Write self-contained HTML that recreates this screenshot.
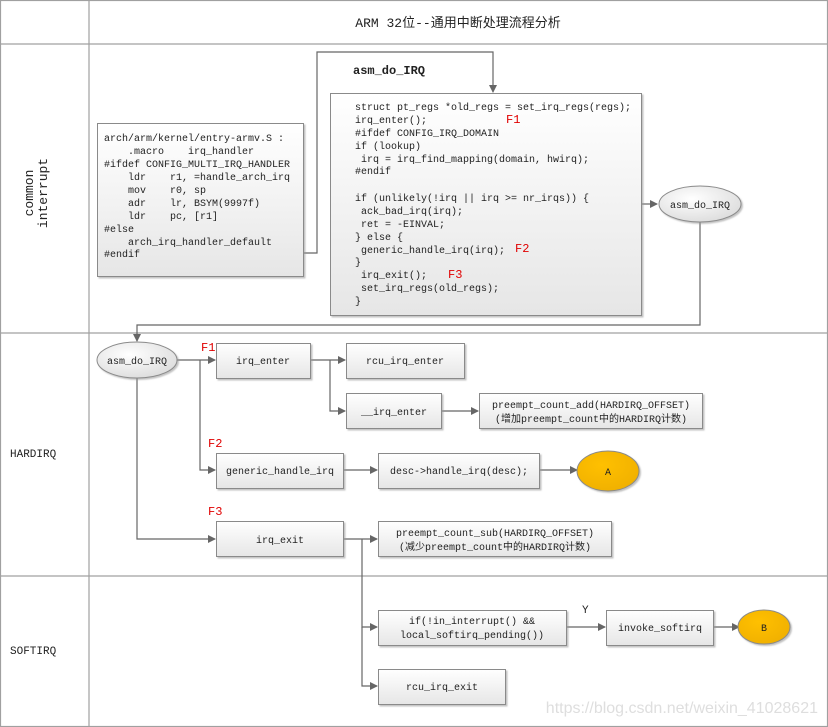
<!DOCTYPE html>
<html><head><meta charset="utf-8"><style>
html,body{margin:0;padding:0;background:#fff;}
svg{display:block;}
text{font-family:"Liberation Mono","Noto Sans CJK SC",monospace;fill:#222;white-space:pre;}
</style></head><body>
<svg width="828" height="727" viewBox="0 0 828 727" xmlns="http://www.w3.org/2000/svg">
<defs>
<linearGradient id="g" x1="0" y1="0" x2="0" y2="1"><stop offset="0" stop-color="#ffffff"/><stop offset="1" stop-color="#e6e6e6"/></linearGradient>
<radialGradient id="ge" cx="0.4" cy="0.35" r="0.7"><stop offset="0" stop-color="#ffffff"/><stop offset="1" stop-color="#dcdcdc"/></radialGradient>
<radialGradient id="go" cx="0.4" cy="0.35" r="0.7"><stop offset="0" stop-color="#ffc000"/><stop offset="1" stop-color="#f0b000"/></radialGradient>
<marker id="a" markerWidth="8" markerHeight="8" refX="7" refY="4" orient="auto" markerUnits="userSpaceOnUse"><path d="M0,0 L8,4 L0,8 Z" fill="#666"/></marker>
<filter id="sh" x="-5%" y="-5%" width="115%" height="120%"><feDropShadow dx="1.5" dy="1.5" stdDeviation="0.8" flood-color="#999" flood-opacity="0.6"/></filter>
</defs>
<g stroke="#a0a0a0" stroke-width="1.2" fill="none">
<rect x="0.5" y="0.5" width="827" height="726"/>
<line x1="0" y1="44" x2="828" y2="44"/>
<line x1="0" y1="333" x2="828" y2="333"/>
<line x1="0" y1="576" x2="828" y2="576"/>
<line x1="89" y1="0" x2="89" y2="727"/>
</g>
<text x="458" y="27" font-size="13" text-anchor="middle">ARM 32位--通用中断处理流程分析</text>
<g font-size="13">
<text transform="translate(33,193) rotate(-90)" text-anchor="middle">common</text>
<text transform="translate(47,193) rotate(-90)" text-anchor="middle">interrupt</text>
</g>
<text x="10" y="457" font-size="11">HARDIRQ</text>
<text x="10" y="654" font-size="11">SOFTIRQ</text>

<g stroke="#666" stroke-width="1.2" fill="none">
<polyline points="303,253 317,253 317,52 493,52 493,92" marker-end="url(#a)"/>
<line x1="641" y1="204" x2="657" y2="204" marker-end="url(#a)"/>
<polyline points="700,222 700,325 137,325 137,341" marker-end="url(#a)"/>
<line x1="177" y1="360" x2="215" y2="360" marker-end="url(#a)"/>
<polyline points="200,360 200,470 215,470" marker-end="url(#a)"/>
<polyline points="137,378 137,539 215,539" marker-end="url(#a)"/>
<line x1="310" y1="360" x2="345" y2="360" marker-end="url(#a)"/>
<polyline points="330,360 330,411 345,411" marker-end="url(#a)"/>
<line x1="441" y1="411" x2="478" y2="411" marker-end="url(#a)"/>
<line x1="343" y1="470" x2="377" y2="470" marker-end="url(#a)"/>
<line x1="539" y1="470" x2="577" y2="470" marker-end="url(#a)"/>
<line x1="343" y1="539" x2="377" y2="539" marker-end="url(#a)"/>
<polyline points="362,539 362,627 377,627" marker-end="url(#a)"/>
<polyline points="362,627 362,686 377,686" marker-end="url(#a)"/>
<line x1="566" y1="627" x2="605" y2="627" marker-end="url(#a)"/>
<line x1="713" y1="627" x2="739" y2="627" marker-end="url(#a)"/>
</g>

<g stroke="#8a8a8a" stroke-width="1" fill="url(#g)" filter="url(#sh)">
<rect x="97.5" y="123.5" width="206" height="153"/>
<rect x="330.5" y="93.5" width="311" height="222"/>
<rect x="216.5" y="343.5" width="94" height="35"/>
<rect x="346.5" y="343.5" width="118" height="35"/>
<rect x="346.5" y="393.5" width="95" height="35"/>
<rect x="479.5" y="393.5" width="223" height="35"/>
<rect x="216.5" y="453.5" width="127" height="35"/>
<rect x="378.5" y="453.5" width="161" height="35"/>
<rect x="216.5" y="521.5" width="127" height="35"/>
<rect x="378.5" y="521.5" width="233" height="35"/>
<rect x="378.5" y="610.5" width="188" height="35"/>
<rect x="606.5" y="610.5" width="107" height="35"/>
<rect x="378.5" y="669.5" width="127" height="35"/>
</g>
<g stroke="#8a8a8a" stroke-width="1" filter="url(#sh)">
<ellipse cx="700" cy="204" rx="41" ry="18" fill="url(#ge)"/>
<ellipse cx="137" cy="360" rx="40" ry="18" fill="url(#ge)"/>
<ellipse cx="608" cy="471" rx="31" ry="20" fill="url(#go)"/>
<ellipse cx="764" cy="627" rx="26" ry="17" fill="url(#go)"/>
</g>

<text x="353" y="74" font-size="12" font-weight="bold">asm_do_IRQ</text>
<g font-size="10">
<text x="104" y="141">arch/arm/kernel/entry-armv.S :</text>
<text x="104" y="154">    .macro    irq_handler</text>
<text x="104" y="167">#ifdef CONFIG_MULTI_IRQ_HANDLER</text>
<text x="104" y="180">    ldr    r1, =handle_arch_irq</text>
<text x="104" y="193">    mov    r0, sp</text>
<text x="104" y="206">    adr    lr, BSYM(9997f)</text>
<text x="104" y="219">    ldr    pc, [r1]</text>
<text x="104" y="232">#else</text>
<text x="104" y="245">    arch_irq_handler_default</text>
<text x="104" y="257">#endif</text>

<text x="355" y="110">struct pt_regs *old_regs = set_irq_regs(regs);</text>
<text x="355" y="123">irq_enter();</text>
<text x="355" y="136">#ifdef CONFIG_IRQ_DOMAIN</text>
<text x="355" y="149">if (lookup)</text>
<text x="355" y="162"> irq = irq_find_mapping(domain, hwirq);</text>
<text x="355" y="174">#endif</text>
<text x="355" y="201">if (unlikely(!irq || irq &gt;= nr_irqs)) {</text>
<text x="355" y="214"> ack_bad_irq(irq);</text>
<text x="355" y="227"> ret = -EINVAL;</text>
<text x="355" y="240">} else {</text>
<text x="355" y="253"> generic_handle_irq(irq);</text>
<text x="355" y="265">}</text>
<text x="355" y="278"> irq_exit();</text>
<text x="355" y="291"> set_irq_regs(old_regs);</text>
<text x="355" y="304">}</text>

<text x="700" y="208" text-anchor="middle">asm_do_IRQ</text>
<text x="137" y="364" text-anchor="middle">asm_do_IRQ</text>
<text x="263" y="364" text-anchor="middle">irq_enter</text>
<text x="405" y="364" text-anchor="middle">rcu_irq_enter</text>
<text x="394" y="415" text-anchor="middle">__irq_enter</text>
<text x="591" y="408" text-anchor="middle">preempt_count_add(HARDIRQ_OFFSET)</text>
<text x="591" y="422" text-anchor="middle">(增加preempt_count中的HARDIRQ计数)</text>
<text x="280" y="474" text-anchor="middle">generic_handle_irq</text>
<text x="459" y="474" text-anchor="middle">desc-&gt;handle_irq(desc);</text>
<text x="608" y="475" text-anchor="middle">A</text>
<text x="280" y="543" text-anchor="middle">irq_exit</text>
<text x="495" y="536" text-anchor="middle">preempt_count_sub(HARDIRQ_OFFSET)</text>
<text x="495" y="550" text-anchor="middle">(减少preempt_count中的HARDIRQ计数)</text>
<text x="472" y="624" text-anchor="middle">if(!in_interrupt() &amp;&amp;</text>
<text x="472" y="638" text-anchor="middle">local_softirq_pending())</text>
<text x="660" y="631" text-anchor="middle">invoke_softirq</text>
<text x="764" y="631" text-anchor="middle">B</text>
<text x="442" y="690" text-anchor="middle">rcu_irq_exit</text>
<text x="582" y="613" font-size="11">Y</text>
</g>
<g font-size="12">
<text x="506" y="123" style="fill:#e00000">F1</text>
<text x="515" y="252" style="fill:#e00000">F2</text>
<text x="448" y="278" style="fill:#e00000">F3</text>
<text x="201" y="351" style="fill:#e00000">F1</text>
<text x="208" y="447" style="fill:#e00000">F2</text>
<text x="208" y="515" style="fill:#e00000">F3</text>
</g>
<text x="818" y="713" font-size="16" text-anchor="end" style="fill:#dedede;font-family:'Liberation Sans',sans-serif">https://blog.csdn.net/weixin_41028621</text>
</svg>
</body></html>
